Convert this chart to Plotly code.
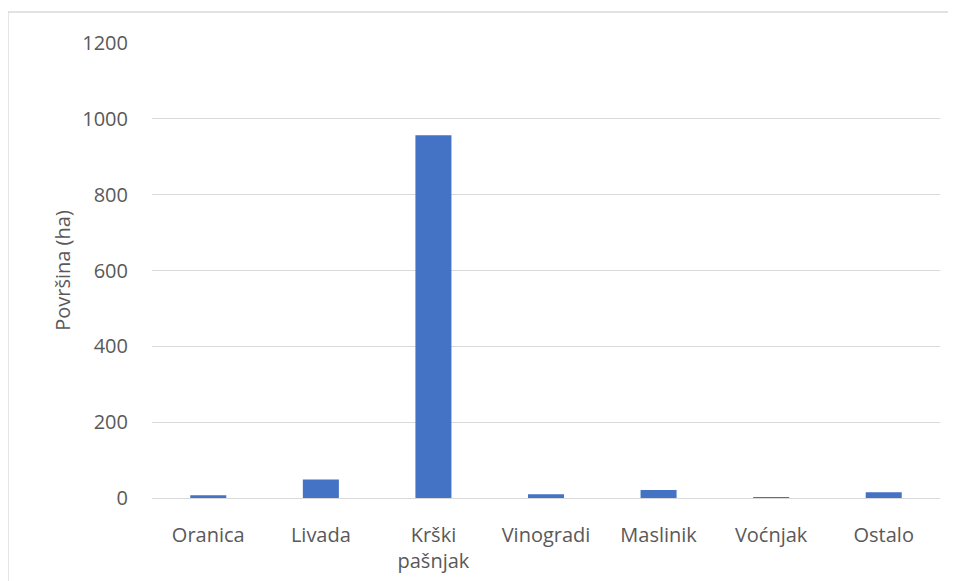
import plotly.graph_objects as go

categories = ["Oranica", "Livada", "Krški<br>pašnjak", "Vinogradi", "Maslinik", "Voćnjak", "Ostalo"]
values = [7, 49, 957, 10, 21, 1, 15]
y_ticks = [0, 200, 400, 600, 800, 1000, 1200]

font_color = "#595959"
grid_color = "#d9d9d9"
bar_color = "#4472c4"

fig = go.Figure()
fig.add_trace(go.Bar(x=categories, y=values, marker=dict(color=bar_color, line=dict(width=0)), width=0.32))

# page has an 8px body margin; figure occupies page (8,8) .. (956,581)
OFF = 8
W, H = 956 - OFF, 581 - OFF
ml, mr, mt, mb = 152 - OFF, 16, 43 - OFF, 83
pw = W - ml - mr
ph = H - mt - mb

def px2paper_x(px):
    return (px - OFF - ml) / pw

def px2paper_y(py):
    return (H - mb - (py - OFF)) / ph

fig.add_shape(type="rect", xref="paper", yref="paper",
              x0=px2paper_x(8), x1=px2paper_x(1000), y0=px2paper_y(620), y1=px2paper_y(12),
              line=dict(color=grid_color, width=1.3), fillcolor="rgba(0,0,0,0)", layer="below")

fig.update_layout(
    width=W, height=H,
    margin=dict(l=ml, r=mr, t=mt, b=mb, pad=0, autoexpand=False),
    paper_bgcolor="white", plot_bgcolor="white",
    font=dict(family="Open Sans", size=20, color=font_color),
    showlegend=False,
    bargap=0.68,
    xaxis=dict(showgrid=False, showline=True, linecolor=grid_color, linewidth=1.3, automargin=False,
               ticks="", ticklabelstandoff=19, tickfont=dict(size=20, color=font_color)),
    yaxis=dict(range=[0, 1200], tickvals=y_ticks, showgrid=True, gridcolor=grid_color, gridwidth=1.3,
               zeroline=False, showline=False, ticks="", ticklabelstandoff=23, automargin=False,
               tickfont=dict(size=20, color=font_color),
               title=dict(text="Površina (ha)", font=dict(size=20, color=font_color), standoff=6)),
)

fig.write_html("out.html")
